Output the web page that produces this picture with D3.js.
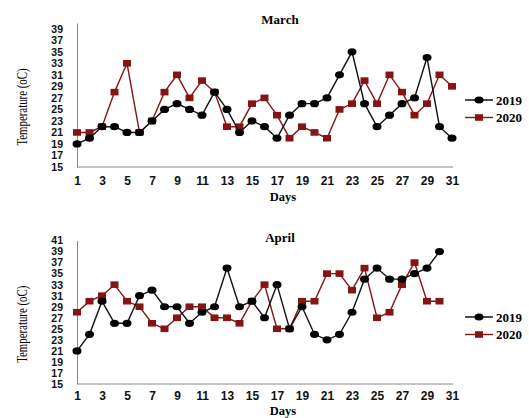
<!DOCTYPE html>
<html>
<head>
<meta charset="utf-8">
<script src="https://cdn.jsdelivr.net/npm/d3@7"></script>
<style>
  body { margin: 0; background: #fff; }
  svg { display: block; font-family: "Liberation Serif", "DejaVu Serif", serif; }
  .tick text { font-weight: bold; fill: #111; }
  .xax .tick text { font-size: 12px; }
  .yax .tick text { font-size: 10.5px; }
</style>
</head>
<body>
<svg id="chart" width="529" height="418"></svg>
<script>
// days of the month
var days = d3.range(1, 32);

// March temperatures (oC)
var march2019 = [19, 20, 22, 22, 21, 21, 23, 25, 26, 25, 24, 28, 25, 21, 23, 22, 20, 24, 26, 26, 27, 31, 35, 26, 22, 24, 26, 27, 34, 22, 20];
var march2020 = [21, 21, 22, 28, 33, 21, 23, 28, 31, 27, 30, 28, 22, 22, 26, 27, 24, 20, 22, 21, 20, 25, 26, 30, 26, 31, 28, 24, 26, 31, 29];

// April temperatures (oC), 30 days
var april2019 = [21, 24, 30, 26, 26, 31, 32, 29, 29, 26, 28, 29, 36, 29, 30, 27, 33, 25, 29, 24, 23, 24, 28, 34, 36, 34, 34, 35, 36, 39];
var april2020 = [28, 30, 31, 33, 30, 29, 26, 25, 27, 29, 29, 27, 27, 26, 30, 33, 25, 25, 30, 30, 35, 35, 32, 36, 27, 28, 33, 37, 30, 30];

var xTicks = [1, 3, 5, 7, 9, 11, 13, 15, 17, 19, 21, 23, 25, 27, 29, 31];
var marchYTicks = [15, 17, 19, 21, 23, 25, 27, 29, 31, 33, 35, 37, 39];
var aprilYTicks = [15, 17, 19, 21, 23, 25, 27, 29, 31, 33, 35, 37, 39, 41];
var seriesNames = ["2019", "2020"];

var svg = d3.select("#chart");
var red = "#861414";

function drawPanel(p) {
  var x = d3.scaleLinear().domain([1, 31]).range([77, 452]);
  var y = d3.scaleLinear().domain(p.yDomain).range([p.bottom, p.top]);
  var g = svg.append("g");

  // axes
  g.append("g").attr("class", "xax")
    .attr("transform", "translate(0," + p.bottom + ")")
    .call(d3.axisBottom(x).tickValues(xTicks).tickSize(0).tickPadding(p.xPad).tickSizeOuter(0))
    .call(function (a) {
      a.select(".domain").attr("stroke", "#888").attr("d", "M77,0H453");
    });

  g.append("g").attr("class", "yax")
    .attr("transform", "translate(77,0)")
    .call(d3.axisLeft(y).tickValues(p.yTicks).tickSize(0).tickPadding(14))
    .call(function (a) { a.select(".domain").attr("stroke", "#888"); });

  // titles
  g.append("text")
    .attr("x", 280).attr("y", p.top + 1)
    .attr("text-anchor", "middle")
    .style("font-weight", "bold").style("font-size", "13px")
    .text(p.title);

  g.append("text")
    .attr("x", 283).attr("y", p.daysY)
    .attr("text-anchor", "middle")
    .style("font-weight", "bold").style("font-size", "12.5px")
    .text("Days");

  g.append("text")
    .attr("transform", "translate(27," + ((p.top + p.bottom) / 2 + 12) + ") rotate(-90) scale(0.7,1)")
    .attr("text-anchor", "middle")
    .style("font-size", "15.5px")
    .text("Temperature (oC)");

  var line = d3.line()
    .x(function (d, i) { return x(days[i]); })
    .y(function (d) { return y(d); });

  // 2020 series (red squares)
  g.append("path").datum(p.s2020)
    .attr("fill", "none").attr("stroke", red).attr("stroke-width", 1.4)
    .attr("d", line);
  g.selectAll(".sq").data(p.s2020).enter().append("rect")
    .attr("x", function (d, i) { return x(days[i]) - 4; })
    .attr("y", function (d) { return y(d) - 3.3; })
    .attr("width", 8).attr("height", 6.6)
    .attr("fill", red);

  // 2019 series (black circles)
  g.append("path").datum(p.s2019)
    .attr("fill", "none").attr("stroke", "#111").attr("stroke-width", 1.4)
    .attr("d", line);
  g.selectAll(".dot").data(p.s2019).enter().append("ellipse")
    .attr("cx", function (d, i) { return x(days[i]); })
    .attr("cy", function (d) { return y(d); })
    .attr("rx", 4.5).attr("ry", 3.6)
    .attr("fill", "#000");

  // legend
  var leg = g.append("g").attr("transform", "translate(465," + p.legY + ")");
  seriesNames.forEach(function (name, i) {
    var row = leg.append("g").attr("transform", "translate(0," + (i * 17.5) + ")");
    var c = i === 0 ? "#000" : red;
    row.append("line").attr("x1", 0).attr("x2", 28).attr("stroke", c).attr("stroke-width", 1.4);
    if (i === 0) {
      row.append("ellipse").attr("cx", 14).attr("rx", 4.5).attr("ry", 3.6).attr("fill", c);
    } else {
      row.append("rect").attr("x", 10).attr("y", -3.3).attr("width", 8).attr("height", 6.6).attr("fill", c);
    }
    row.append("text").attr("x", 31).attr("y", 4.5)
      .style("font-weight", "bold").style("font-size", "13px")
      .text(name);
  });
}

drawPanel({ title: "March", s2019: march2019, s2020: march2020, yDomain: [15, 40], yTicks: marchYTicks, top: 23, bottom: 167, legY: 100, daysY: 201, xPad: 9 });
drawPanel({ title: "April", s2019: april2019, s2020: april2020, yDomain: [15, 41], yTicks: aprilYTicks, top: 240.5, bottom: 384, legY: 317, daysY: 415, xPad: 7 });
</script>
</body>
</html>
